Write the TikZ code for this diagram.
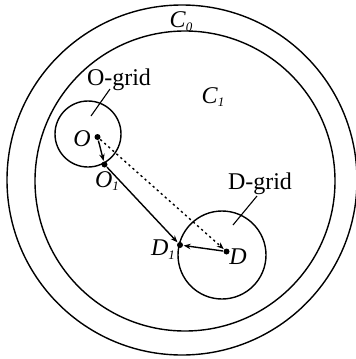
\documentclass[tikz,border=0pt]{standalone}
\usepackage{fontspec}
\setmainfont{Liberation Serif}
\usetikzlibrary{arrows.meta}
\newcommand{\lbl}[2]{\textit{#1}\raisebox{-0.35ex}{\fontsize{13}{14}\selectfont\textit{#2}}}
\begin{document}
\begin{tikzpicture}[x=1pt,y=-1pt, line width=1.4pt,
  lab/.style={font=\fontsize{24}{26}\selectfont, inner sep=0},
  gridlab/.style={font=\fontsize{24}{26}\selectfont, inner sep=0},
  dot/.style={circle, fill, inner sep=0, minimum size=6pt},
  arr/.style={-{Stealth[length=7pt,width=5.5pt]}},
  dotline/.style={dash pattern=on 2.2pt off 3.2pt}]
\useasboundingbox (0,0) rectangle (356,359);
\draw (182,180) circle [radius=175];
\draw (185,181) circle [radius=150];
\draw (88,134) circle [radius=33];
\draw (222,255) circle [radius=44];
\node[dot] (O) at (97.5,137) {};
\node[dot] (O1) at (104.5,164.5) {};
\node[dot] (D1) at (180,245) {};
\node[dot] (D) at (226.5,251.5) {};
\draw[arr] (O) -- (O1);
\draw[arr] (O1) -- (D1);
\draw[arr] (D) -- (D1);
\draw[arr, dotline] (O) -- (D);
\node[lab] (c0) at (181,22) {\lbl{C}{0}};
\node[lab] (c1) at (213,97) {\lbl{C}{1}};
\node[lab] (lo) at (82,139) {\textit{O}};
\node[lab] (lo1) at (107,181) {\lbl{O}{1}};
\node[lab] (ld1) at (163,250) {\lbl{D}{1}};
\node[lab] (ld) at (238,257) {\textit{D}};
\node[gridlab] (og) at (119,80) {O-grid};
\node[gridlab] (dg) at (260,184) {D-grid};
\coordinate (oga) at (91,116);
\coordinate (ogb) at (110,89);
\coordinate (dga) at (233,225);
\coordinate (dgb) at (257,196);
\draw[line width=1.1pt] (oga) -- (ogb);
\draw[line width=1.1pt] (dga) -- (dgb);
\end{tikzpicture}
\end{document}
